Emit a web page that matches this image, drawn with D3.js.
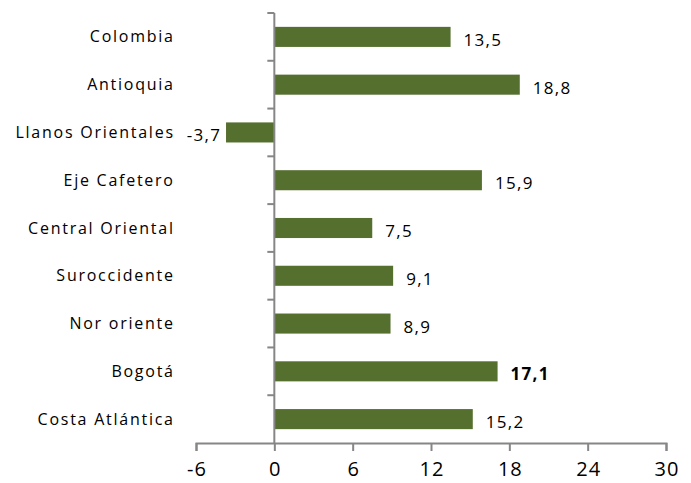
<!DOCTYPE html>
<html>
<head>
<meta charset="utf-8">
<script src="https://cdn.jsdelivr.net/npm/d3@7"></script>
<style>
  body { margin: 0; background: #fff; }
  text { font-family: 'Open Sans', sans-serif; fill: #000; }
</style>
</head>
<body>
<div id="chart"></div>
<script>
// regiones y variación
const regions = ['Colombia', 'Antioquia', 'Llanos Orientales', 'Eje Cafetero', 'Central Oriental',
  'Suroccidente', 'Nor oriente', 'Bogotá', 'Costa Atlántica']
const values = [13.5, 18.8, -3.7, 15.9, 7.5, 9.1, 8.9, 17.1, 15.2]
const xTicks = [-6, 0, 6, 12, 18, 24, 30]
const boldRegion = 'Bogotá'

const width = 691, height = 483
const axisColor = '#868686'
const barColor = '#556f2f'

const svg = d3.select('#chart')
  .append('svg')
  .attr('width', width)
  .attr('height', height)

const x = d3.scaleLinear().domain([-6, 30]).range([196, 666])

// bandas para las barras y para las marcas del eje
const yCell = d3.scaleBand().domain(regions).range([13, 443])
const y = d3.scaleBand().domain(regions).range([13, 443]).paddingInner(0.58).paddingOuter(0.29)

const data = regions.map((r, i) => ({ region: r, value: values[i] }))

// barras
svg.selectAll('rect.bar')
  .data(data)
  .join('rect')
  .attr('class', 'bar')
  .attr('x', d => x(Math.min(0, d.value)))
  .attr('y', d => y(d.region))
  .attr('width', d => Math.abs(x(d.value) - x(0)))
  .attr('height', y.bandwidth())
  .attr('fill', barColor)

// eje x
const xAxis = svg.append('g')
  .attr('transform', `translate(0, 443)`)
  .call(d3.axisBottom(x).tickValues(xTicks).tickSize(8).tickSizeOuter(8).tickFormat(d => String(d)).tickPadding(11))
xAxis.select('.domain').attr('stroke', axisColor).attr('stroke-width', 2)
xAxis.selectAll('.tick line').attr('stroke', axisColor).attr('stroke-width', 2)
xAxis.selectAll('.tick text')
  .style('font-family', "'Open Sans', sans-serif")
  .attr('font-size', 20)
  .style('letter-spacing', '1px')
  .attr('dx', '0.5px')
  .attr('fill', '#000')

// eje y
const yAxis = svg.append('g')
yAxis.append('line')
  .attr('x1', x(0)).attr('x2', x(0))
  .attr('y1', yCell.range()[0]).attr('y2', yCell.range()[1])
  .attr('stroke', axisColor).attr('stroke-width', 2)
yAxis.selectAll('line.tick')
  .data(regions)
  .join('line')
  .attr('class', 'tick')
  .attr('x1', x(0) - 7).attr('x2', x(0))
  .attr('y1', d => yCell(d)).attr('y2', d => yCell(d))
  .attr('stroke', axisColor).attr('stroke-width', 2)

// etiquetas de categorías (compensar el espacio final del letter-spacing)
svg.selectAll('text.cat')
  .data(regions)
  .join('text')
  .attr('class', 'cat')
  .attr('x', 173 + 1.75)
  .attr('y', d => yCell(d) + yCell.bandwidth() / 2)
  .attr('dy', '0.35em')
  .attr('text-anchor', 'end')
  .attr('font-size', 16)
  .style('letter-spacing', '1.75px')
  .text(d => d)

// etiquetas de valores
const fmt = v => v.toFixed(1).replace('.', ',')
svg.selectAll('text.val')
  .data(data)
  .join('text')
  .attr('class', 'val')
  .attr('x', d => d.value >= 0 ? x(d.value) + 13 : x(d.value) - 6 + 1.3)
  .attr('y', d => y(d.region) + y.bandwidth() / 2 + 3)
  .attr('dy', '0.35em')
  .attr('text-anchor', d => d.value >= 0 ? 'start' : 'end')
  .attr('font-size', 17)
  .style('letter-spacing', '1.3px')
  .attr('font-weight', d => d.region === boldRegion ? 'bold' : 'normal')
  .text(d => fmt(d.value))
</script>
</body>
</html>
